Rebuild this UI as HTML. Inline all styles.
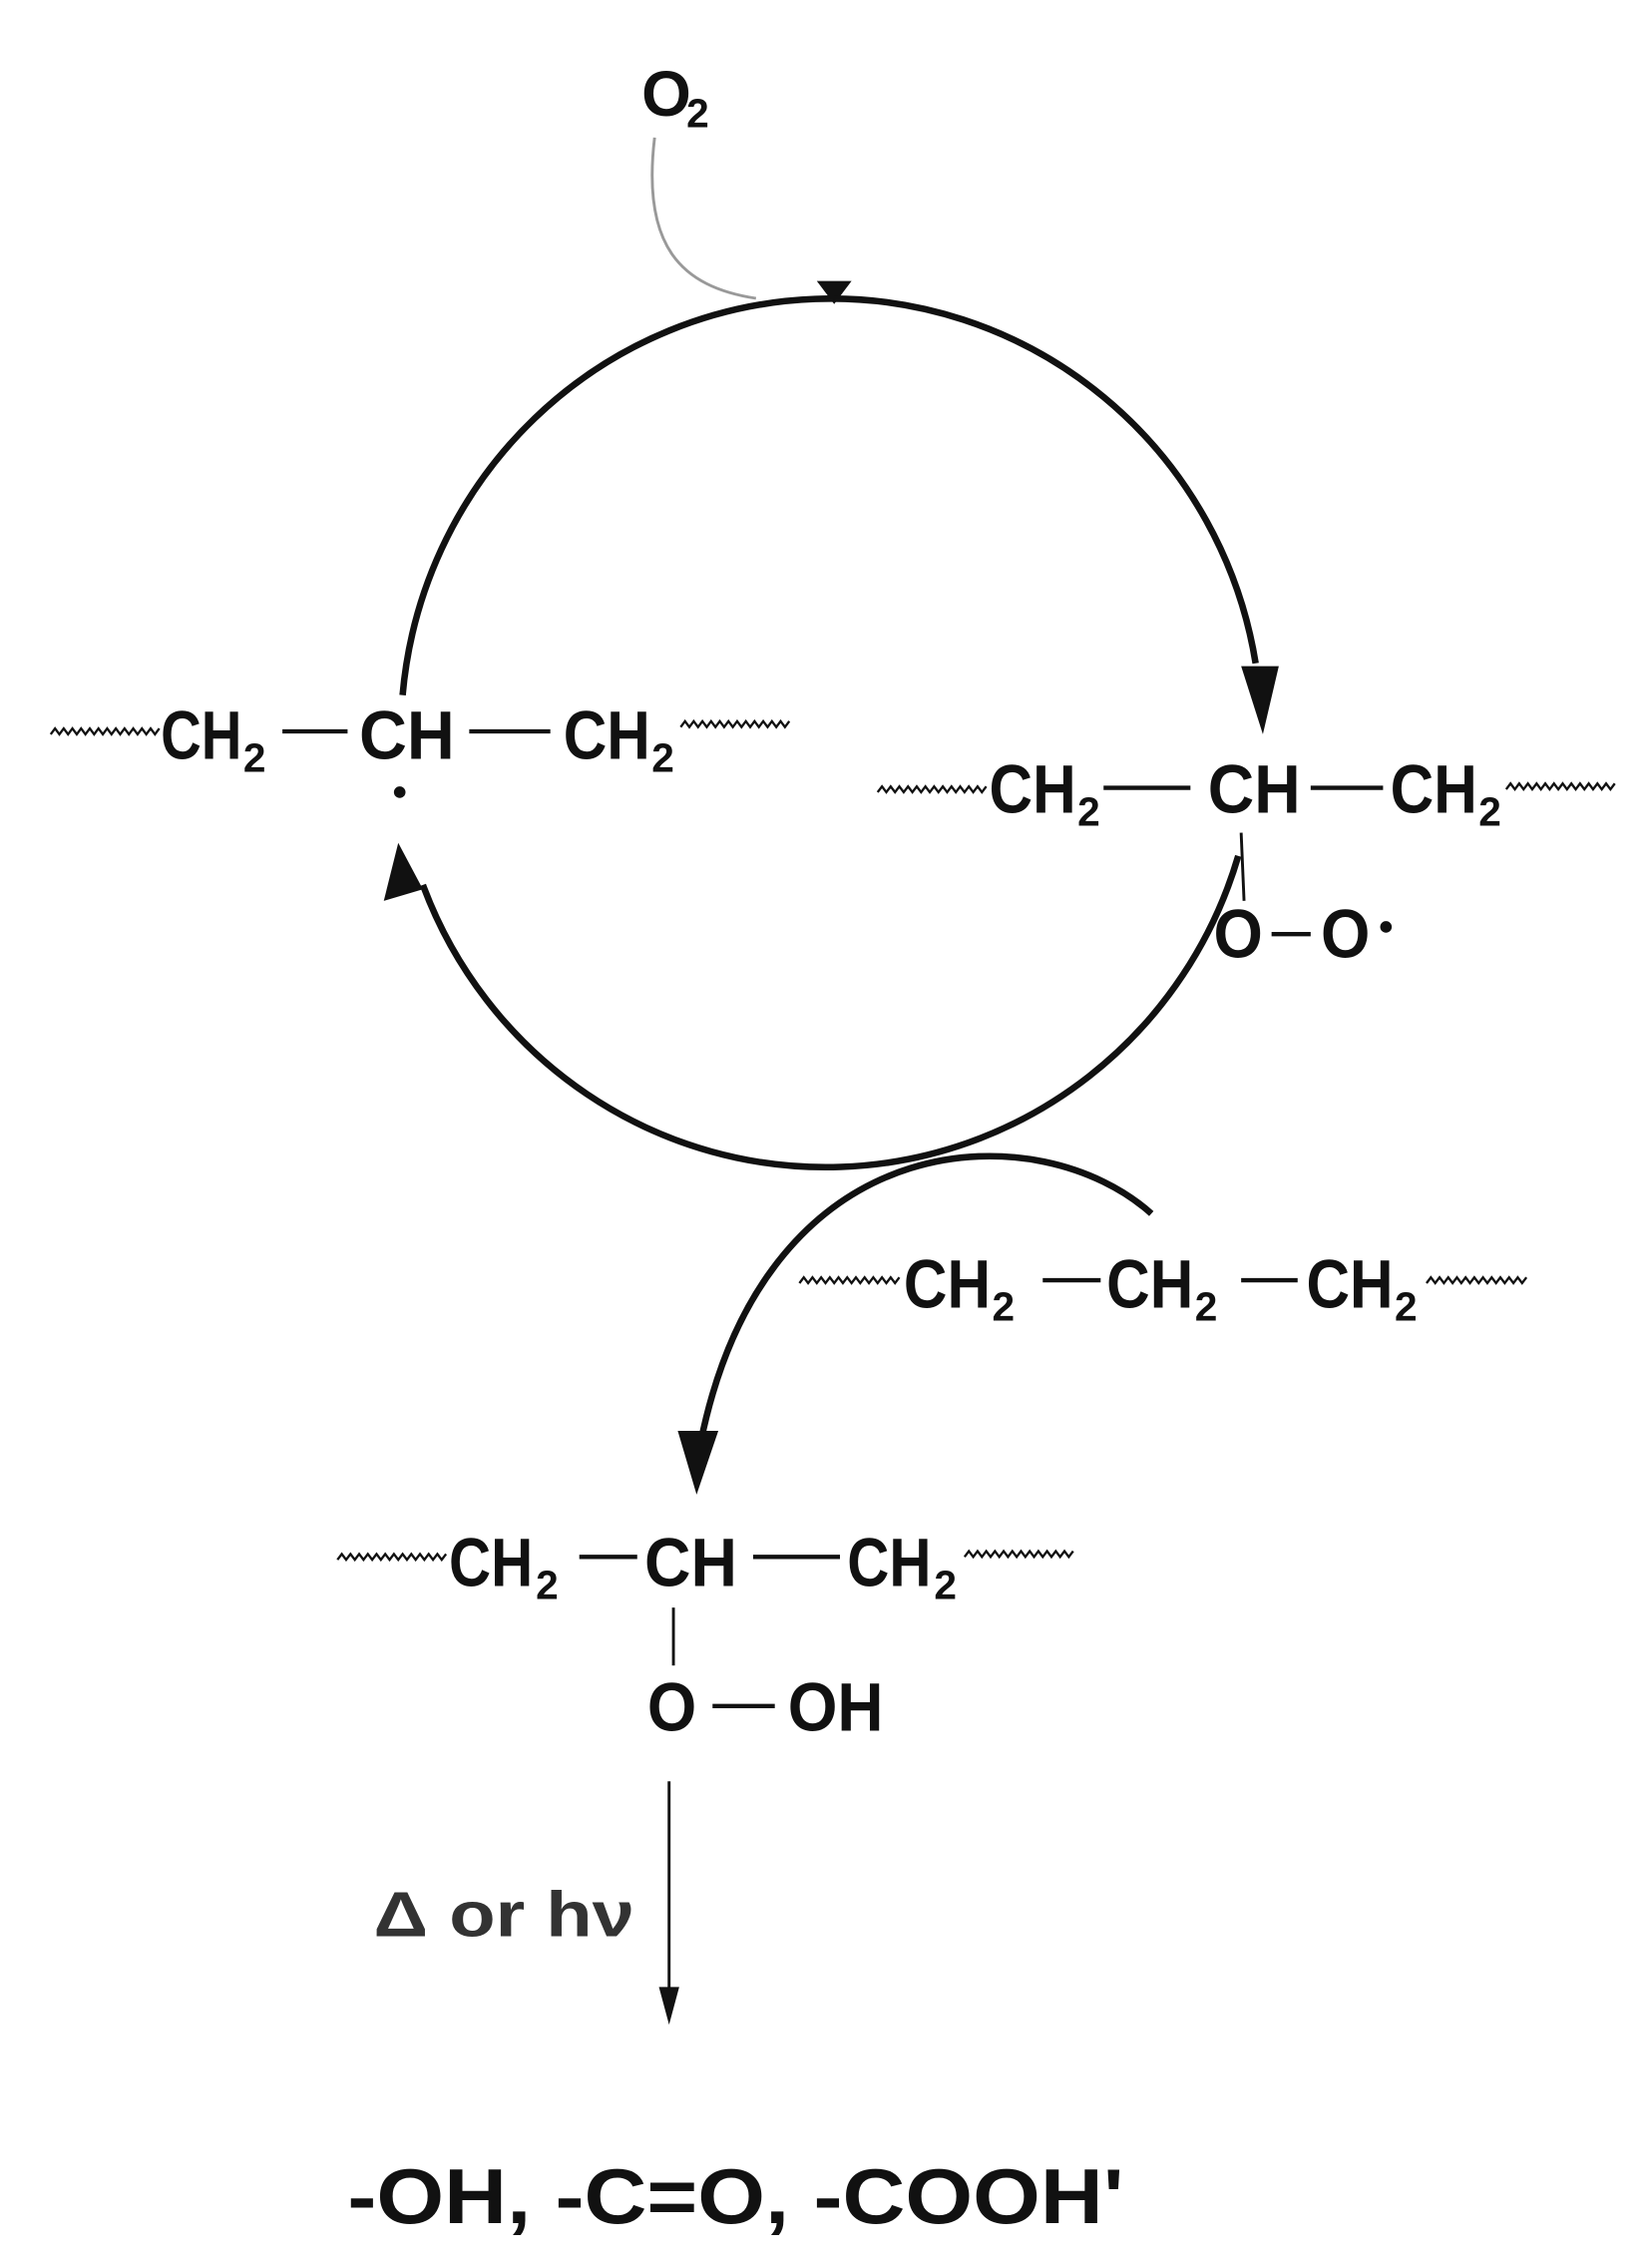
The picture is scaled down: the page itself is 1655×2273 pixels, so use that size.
<!DOCTYPE html>
<html><head><meta charset="utf-8"><style>
html,body{margin:0;padding:0;background:#fff;}
svg{display:block;}
text{font-family:"Liberation Sans",Arial,sans-serif;font-weight:bold;fill:#111;}
</style></head><body>
<svg width="1655" height="2273" viewBox="0 0 1140 1566" preserveAspectRatio="none" xmlns="http://www.w3.org/2000/svg">
<!-- O2 -->
<text x="443" y="80" font-size="44">O</text><text x="474" y="88" font-size="28">2</text>
<path d="M452,95 C443,170 470,198 522,206" fill="none" stroke="#999" stroke-width="2"/>
<polygon points="564,194 588,194 576,210" fill="#111"/>
<!-- main circle arcs -->
<path d="M278,480 A297,300 0 0 1 867,458" fill="none" stroke="#111" stroke-width="4.5"/>
<polygon points="857,460 883,460 872,507" fill="#111"/>
<path d="M855,591 A297,300 0 0 1 292,611" fill="none" stroke="#111" stroke-width="4.5"/>
<polygon points="265,622 292,614 275,582" fill="#111"/>
<!-- bottom curved arrow -->
<path d="M795,838 C720,770 530,770 484,995" fill="none" stroke="#111" stroke-width="4.5"/>
<polygon points="468,988 496,988 481,1032" fill="#111"/>

<!-- left molecule -->
<polyline points="35,507 38,503 41,507 44,503 47,507 50,503 53,507 56,503 59,507 62,503 65,507 68,503 71,507 74,503 77,507 80,503 83,507 86,503 89,507 92,503 95,507 98,503 101,507 104,503 107,507 110,503" fill="none" stroke="#111" stroke-width="1.6"/>
<text x="111" y="524" font-size="47" textLength="56" lengthAdjust="spacingAndGlyphs">CH</text><text x="168" y="533" font-size="28">2</text>
<line x1="195" y1="505" x2="240" y2="505" stroke="#111" stroke-width="3"/>
<text x="248" y="524" font-size="47" textLength="66" lengthAdjust="spacingAndGlyphs">CH</text>
<circle cx="276" cy="547" r="4" fill="#111"/>
<line x1="324" y1="505" x2="380" y2="505" stroke="#111" stroke-width="3"/>
<text x="389" y="524" font-size="47" textLength="60" lengthAdjust="spacingAndGlyphs">CH</text><text x="450" y="533" font-size="28">2</text>
<polyline points="470,502 473,498 476,502 479,498 482,502 485,498 488,502 491,498 494,502 497,498 500,502 503,498 506,502 509,498 512,502 515,498 518,502 521,498 524,502 527,498 530,502 533,498 536,502 539,498 542,502 545,498" fill="none" stroke="#111" stroke-width="1.6"/>

<!-- right molecule -->
<polyline points="606,547 609,543 612,547 615,543 618,547 621,543 624,547 627,543 630,547 633,543 636,547 639,543 642,547 645,543 648,547 651,543 654,547 657,543 660,547 663,543 666,547 669,543 672,547 675,543 678,547 681,543" fill="none" stroke="#111" stroke-width="1.6"/>
<text x="683" y="561" font-size="47" textLength="60" lengthAdjust="spacingAndGlyphs">CH</text><text x="744" y="570" font-size="28">2</text>
<line x1="762" y1="544" x2="822" y2="544" stroke="#111" stroke-width="3"/>
<text x="834" y="561" font-size="47" textLength="64" lengthAdjust="spacingAndGlyphs">CH</text>
<line x1="905" y1="544" x2="955" y2="544" stroke="#111" stroke-width="3"/>
<text x="960" y="561" font-size="47" textLength="60" lengthAdjust="spacingAndGlyphs">CH</text><text x="1021" y="570" font-size="28">2</text>
<polyline points="1040,545 1043,541 1046,545 1049,541 1052,545 1055,541 1058,545 1061,541 1064,545 1067,541 1070,545 1073,541 1076,545 1079,541 1082,545 1085,541 1088,545 1091,541 1094,545 1097,541 1100,545 1103,541 1106,545 1109,541 1112,545 1115,541" fill="none" stroke="#111" stroke-width="1.6"/>
<line x1="857" y1="575" x2="859" y2="622" stroke="#111" stroke-width="2"/>
<text x="838" y="661" font-size="47" textLength="34" lengthAdjust="spacingAndGlyphs">O</text>
<line x1="878" y1="645" x2="905" y2="645" stroke="#111" stroke-width="3"/>
<text x="912" y="661" font-size="47" textLength="34" lengthAdjust="spacingAndGlyphs">O</text>
<circle cx="957" cy="640" r="4" fill="#111"/>

<!-- middle molecule -->
<polyline points="552,886 555,882 558,886 561,882 564,886 567,882 570,886 573,882 576,886 579,882 582,886 585,882 588,886 591,882 594,886 597,882 600,886 603,882 606,886 609,882 612,886 615,882 618,886 621,882" fill="none" stroke="#111" stroke-width="1.6"/>
<text x="624" y="903" font-size="47" textLength="60" lengthAdjust="spacingAndGlyphs">CH</text><text x="685" y="912" font-size="28">2</text>
<line x1="720" y1="884" x2="760" y2="884" stroke="#111" stroke-width="3"/>
<text x="764" y="903" font-size="47" textLength="60" lengthAdjust="spacingAndGlyphs">CH</text><text x="825" y="912" font-size="28">2</text>
<line x1="857" y1="884" x2="896" y2="884" stroke="#111" stroke-width="3"/>
<text x="902" y="903" font-size="47" textLength="60" lengthAdjust="spacingAndGlyphs">CH</text><text x="963" y="912" font-size="28">2</text>
<polyline points="985,886 988,882 991,886 994,882 997,886 1000,882 1003,886 1006,882 1009,886 1012,882 1015,886 1018,882 1021,886 1024,882 1027,886 1030,882 1033,886 1036,882 1039,886 1042,882 1045,886 1048,882 1051,886 1054,882" fill="none" stroke="#111" stroke-width="1.6"/>

<!-- lower molecule -->
<polyline points="233,1077 236,1073 239,1077 242,1073 245,1077 248,1073 251,1077 254,1073 257,1077 260,1073 263,1077 266,1073 269,1077 272,1073 275,1077 278,1073 281,1077 284,1073 287,1077 290,1073 293,1077 296,1073 299,1077 302,1073 305,1077 308,1073" fill="none" stroke="#111" stroke-width="1.6"/>
<text x="310" y="1095" font-size="47" textLength="58" lengthAdjust="spacingAndGlyphs">CH</text><text x="370" y="1104" font-size="28">2</text>
<line x1="400" y1="1075" x2="440" y2="1075" stroke="#111" stroke-width="3"/>
<text x="445" y="1095" font-size="47" textLength="64" lengthAdjust="spacingAndGlyphs">CH</text>
<line x1="520" y1="1075" x2="580" y2="1075" stroke="#111" stroke-width="3"/>
<text x="585" y="1095" font-size="47" textLength="58" lengthAdjust="spacingAndGlyphs">CH</text><text x="645" y="1104" font-size="28">2</text>
<polyline points="666,1075 669,1071 672,1075 675,1071 678,1075 681,1071 684,1075 687,1071 690,1075 693,1071 696,1075 699,1071 702,1075 705,1071 708,1075 711,1071 714,1075 717,1071 720,1075 723,1071 726,1075 729,1071 732,1075 735,1071 738,1075 741,1071" fill="none" stroke="#111" stroke-width="1.6"/>
<line x1="465" y1="1110" x2="465" y2="1150" stroke="#111" stroke-width="2"/>
<text x="447" y="1195" font-size="47" textLength="34" lengthAdjust="spacingAndGlyphs">O</text>
<line x1="492" y1="1178" x2="535" y2="1178" stroke="#111" stroke-width="3"/>
<text x="544" y="1195" font-size="47" textLength="66" lengthAdjust="spacingAndGlyphs">OH</text>

<!-- bottom arrow -->
<line x1="462" y1="1230" x2="462" y2="1380" stroke="#111" stroke-width="2"/>
<polygon points="455,1372 469,1372 462,1398" fill="#111"/>
<text x="258" y="1337" font-size="44" style="fill:#333" textLength="180" lengthAdjust="spacingAndGlyphs">Δ or hν</text>

<text x="240" y="1535" font-size="54" textLength="536" lengthAdjust="spacingAndGlyphs">-OH, -C=O, -COOH'</text>
</svg>
</body></html>
